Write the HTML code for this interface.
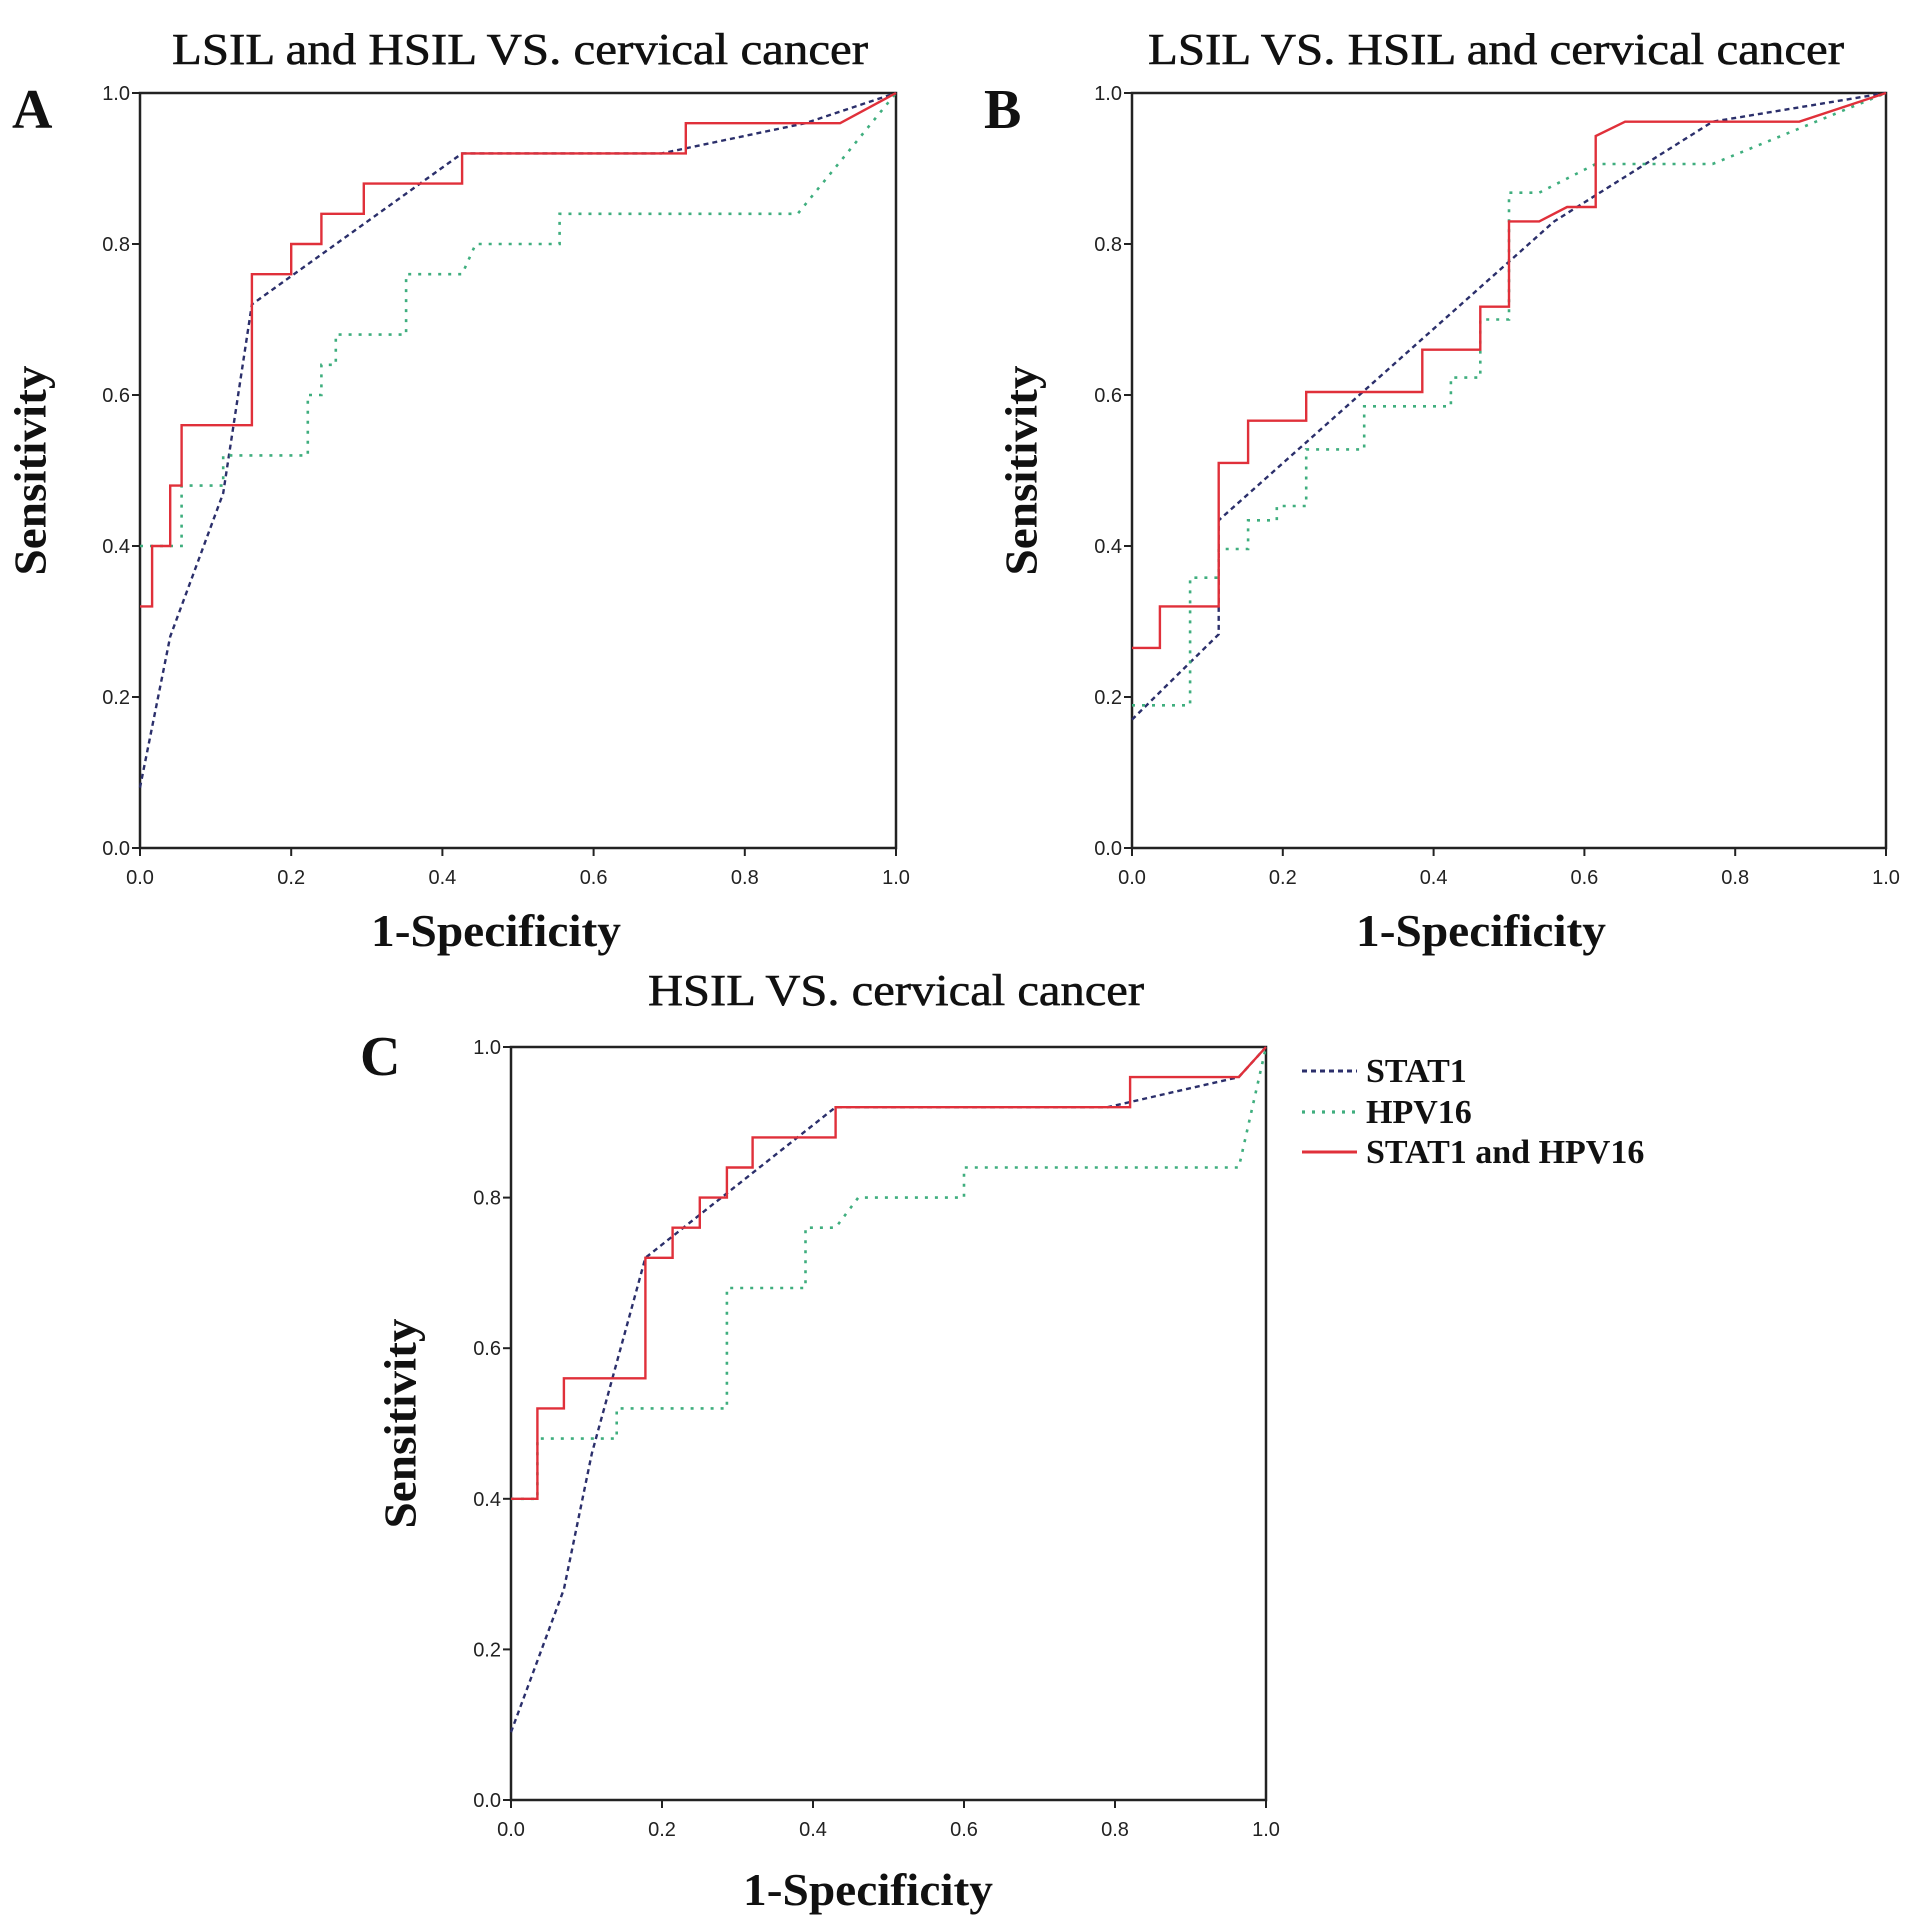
<!DOCTYPE html>
<html><head><meta charset="utf-8"><style>
html,body{margin:0;padding:0;background:#fff}
svg{display:block}
.t{font-family:"Liberation Serif",serif;fill:#111}
.tk{font-family:"Liberation Sans",sans-serif;font-size:20px;fill:#222}
</style></head><body>
<svg id="fig" width="1913" height="1931" viewBox="0 0 1913 1931" xmlns="http://www.w3.org/2000/svg"></svg>
<script>
const tickLabels = ["0.0","0.2","0.4","0.6","0.8","1.0"];
const tickValues = [0,0.2,0.4,0.6,0.8,1.0];
const seriesNames = ["STAT1","HPV16","STAT1 and HPV16"];
// Panel A
const aStatX=[0,0.04,0.11,0.148,0.426,0.69,0.88,1];
const aStatY=[0.08,0.28,0.47,0.72,0.92,0.92,0.96,1];
const aHpvX=[0,0.055,0.055,0.11,0.11,0.222,0.222,0.24,0.24,0.259,0.259,0.352,0.352,0.426,0.444,0.555,0.555,0.87,1];
const aHpvY=[0.40,0.40,0.48,0.48,0.52,0.52,0.60,0.60,0.64,0.64,0.68,0.68,0.76,0.76,0.80,0.80,0.84,0.84,1];
const aBothX=[0,0.016,0.016,0.04,0.04,0.055,0.055,0.148,0.148,0.2,0.2,0.24,0.24,0.296,0.296,0.426,0.426,0.722,0.722,0.926,1];
const aBothY=[0.32,0.32,0.40,0.40,0.48,0.48,0.56,0.56,0.76,0.76,0.80,0.80,0.84,0.84,0.88,0.88,0.92,0.92,0.96,0.96,1];
// Panel B
const bStatX=[0,0.115,0.115,0.56,0.77,1];
const bStatY=[0.17,0.283,0.434,0.83,0.962,1];
const bHpvX=[0,0.077,0.077,0.115,0.115,0.154,0.154,0.192,0.192,0.231,0.231,0.308,0.308,0.423,0.423,0.462,0.462,0.5,0.5,0.54,0.615,0.77,1];
const bHpvY=[0.189,0.189,0.358,0.358,0.396,0.396,0.434,0.434,0.453,0.453,0.528,0.528,0.585,0.585,0.623,0.623,0.70,0.70,0.868,0.868,0.906,0.906,1];
const bBothX=[0,0.037,0.037,0.115,0.115,0.154,0.154,0.231,0.231,0.385,0.385,0.462,0.462,0.5,0.5,0.54,0.577,0.615,0.615,0.654,0.885,1];
const bBothY=[0.265,0.265,0.32,0.32,0.51,0.51,0.566,0.566,0.604,0.604,0.66,0.66,0.717,0.717,0.83,0.83,0.849,0.849,0.943,0.962,0.962,1];
// Panel C
const cStatX=[0,0.07,0.107,0.178,0.43,0.79,0.964,1];
const cStatY=[0.09,0.28,0.46,0.72,0.92,0.92,0.96,1];
const cHpvX=[0,0.035,0.035,0.14,0.14,0.286,0.286,0.39,0.39,0.43,0.46,0.6,0.6,0.964,1];
const cHpvY=[0.40,0.40,0.48,0.48,0.52,0.52,0.68,0.68,0.76,0.76,0.80,0.80,0.84,0.84,1];
const cBothX=[0,0.035,0.035,0.07,0.07,0.178,0.178,0.214,0.214,0.25,0.25,0.286,0.286,0.32,0.32,0.43,0.43,0.82,0.82,0.964,1];
const cBothY=[0.40,0.40,0.52,0.52,0.56,0.56,0.72,0.72,0.76,0.76,0.80,0.80,0.84,0.84,0.88,0.88,0.92,0.92,0.96,0.96,1];

const NS="http://www.w3.org/2000/svg";
const svg=document.getElementById('fig');
function mk(tag,attrs,parent){const e=document.createElementNS(NS,tag);for(const k in attrs)e.setAttribute(k,attrs[k]);(parent||svg).appendChild(e);return e;}
const styles=[
 {stroke:"#2b2f6b",dash:"5,4",w:2.4},
 {stroke:"#3fae7e",dash:"3,7",w:2.6},
 {stroke:"#e0303a",dash:"",w:2.4}];
function panel(id,L,T,W,H,title,tlen,tcx,tcy,letter,lx,ly,ylx,xlx,xly,data){
 const g=mk('g',{});
 
 
 const sx=v=>L+v*W, sy=v=>T+H-v*H;
 const tt=mk('text',{x:tcx,y:tcy,'text-anchor':'middle','font-size':44,class:'t',textLength:tlen,lengthAdjust:'spacingAndGlyphs',stroke:'#111','stroke-width':0.6},g);
 tt.textContent=title;
 
 
 const lt=mk('text',{x:lx,y:ly,'font-size':56,'font-weight':'bold',class:'t'},g);
 lt.textContent=letter;
 
 
 const yl=mk('text',{x:0,y:0,transform:`translate(${ylx},${T+H/2}) rotate(-90)`,'text-anchor':'middle','dominant-baseline':'central','font-size':46,'font-weight':'bold',class:'t',textLength:210,lengthAdjust:'spacingAndGlyphs'},g);
 yl.textContent="Sensitivity";
 
 
 const xl=mk('text',{x:xlx,y:xly,'text-anchor':'middle','font-size':46,'font-weight':'bold',class:'t',textLength:250,lengthAdjust:'spacingAndGlyphs'},g);
 xl.textContent="1-Specificity";
 
 
 const fr=mk('rect',{x:L,y:T,width:W,height:H,fill:'none',stroke:'#222','stroke-width':2.5},g);
 
 
 tickValues.forEach((v,i)=>{
  mk('line',{x1:L-8,x2:L,y1:sy(v),y2:sy(v),stroke:'#222','stroke-width':2},g);
  mk('line',{x1:sx(v),x2:sx(v),y1:T+H,y2:T+H+8,stroke:'#222','stroke-width':2},g);
  const a=mk('text',{x:L-10,y:sy(v)+7,'text-anchor':'end',class:'tk'},g);a.textContent=tickLabels[i];
  
  
  const b=mk('text',{x:sx(v),y:T+H+36,'text-anchor':'middle',class:'tk'},g);b.textContent=tickLabels[i];
  
  
 });
 data.forEach((d,k)=>{
  const pts=d[0].map((x,i)=>sx(x).toFixed(1)+','+sy(d[1][i]).toFixed(1)).join(' ');
  const s=styles[k];
  const p=mk('polyline',{points:pts,fill:'none',stroke:s.stroke,'stroke-width':s.w,'stroke-dasharray':s.dash},g);
  
  
 });
}
panel('a',140,93,756,755,"LSIL and HSIL VS. cervical cancer",696,520,64,"A",12,128,30,496,946,
 [[aStatX,aStatY],[aHpvX,aHpvY],[aBothX,aBothY]]);
panel('b',1132,93,754,755,"LSIL VS. HSIL and cervical cancer",696,1496,64,"B",984,128,1021,1481,946,
 [[bStatX,bStatY],[bHpvX,bHpvY],[bBothX,bBothY]]);
panel('c',511,1047,755,753,"HSIL VS. cervical cancer",496,896,1005,"C",360,1075,400,868,1905,
 [[cStatX,cStatY],[cHpvX,cHpvY],[cBothX,cBothY]]);
// legend
const lg=mk('g',{});


const legY=[1071,1112,1152];
seriesNames.forEach((n,k)=>{
 const s=styles[k];
 mk('line',{x1:1302,x2:1357,y1:legY[k],y2:legY[k],stroke:s.stroke,'stroke-width':s.w+0.6,'stroke-dasharray':s.dash},lg);
 const t=mk('text',{x:1366,y:legY[k]+11,'font-size':34,'font-weight':'bold',class:'t'},lg);
 t.textContent=n;
 
 
});
</script>
</body></html>
